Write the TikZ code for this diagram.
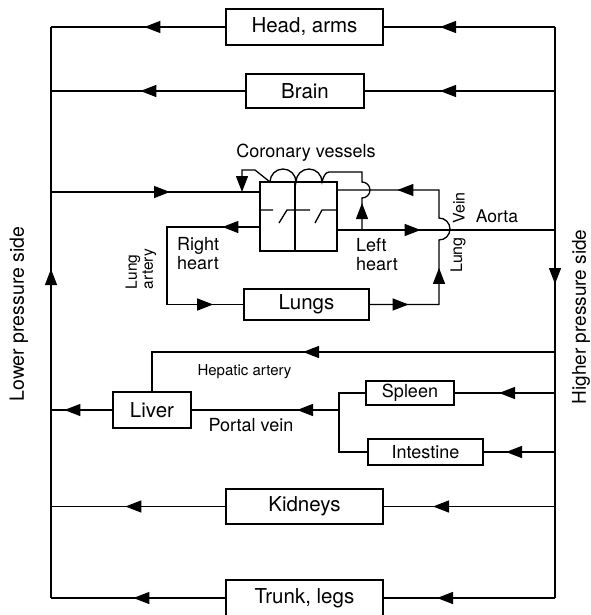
\documentclass[tikz,border=0pt]{standalone}
\usepackage{fontspec}
\setmainfont{TeX Gyre Heros}
\usetikzlibrary{arrows.meta, decorations.markings}

\begin{document}
\begin{tikzpicture}[
    x=1pt, y=-1pt,
    >={Triangle[length=16pt, width=12pt]},
    organ/.style={rectangle, draw, line width=1.3pt, inner sep=0pt, minimum width=157pt, minimum height=35pt, font=\fontsize{20.5}{24}\selectfont},
    small organ/.style={organ, minimum height=25pt, font=\fontsize{18}{21}\selectfont},
    pipe/.style={draw, line width=1.3pt},
    arrowat/.style={postaction={decorate, decoration={markings, mark=at position #1 with {\arrow{>}}}}},
    tag/.style={inner sep=0pt, align=left, font=\fontsize{18}{19}\selectfont},
    side/.style={rotate=90, inner sep=0pt, font=\fontsize{19.5}{22}\selectfont}
]
\useasboundingbox (0,0) rectangle (590,615);
\clip (0,0) rectangle (590,615);

% Sides
\coordinate (lt) at (51,27);
\coordinate (lb) at (51,598);
\coordinate (rt) at (555,27);
\coordinate (rb) at (555,598);
\coordinate (portal) at (339,410);

% Organs
\node[organ, minimum height=36pt] (head) at (304.5,27) {Head, arms};
\node[organ, minimum width=118pt, minimum height=34pt] (brain) at (305,91) {Brain};
\node[organ, minimum width=77pt, minimum height=69pt] (heart) at (298.5,216.5) {};
\node[organ, minimum width=125pt, minimum height=31pt] (lungs) at (306.5,304.5) {Lungs};
\node[organ, minimum width=78pt, minimum height=36pt] (liver) at (152,410) {Liver};
\node[small organ, minimum width=88pt, minimum height=24pt] (spleen) at (410,393) {Spleen};
\node[small organ, minimum width=115pt, minimum height=26pt] (intestine) at (425.5,452) {Intestine};
\node[organ] (kidneys) at (304.5,506.5) {Kidneys};
\node[organ, minimum height=36pt] (trunk) at (304.5,598) {Trunk, legs};

% Heart chambers and valves
\draw[pipe] (295,182) -- (295,251);
\draw[pipe] (260,210) -- (273,210) (279,223) -- (287,210) -- (310,210)
    (315,223) -- (322,210) -- (337,210);

% Labels
\node[tag] (coronary) at (306,153) {Coronary vessels};
\node[tag, anchor=west] (rheart) at (177,254) {Right\\heart};
\node[tag, anchor=west] (lheart) at (356,255) {Left\\heart};
\node[tag, rotate=90, font=\fontsize{15.5}{16}\selectfont] (lungart) at (141,269) {Lung\\artery};
\node[tag, rotate=90, font=\fontsize{16}{17}\selectfont] (vein) at (459,208) {Vein};
\node[tag, rotate=90, font=\fontsize{16}{17}\selectfont] (lungvein) at (458,255) {Lung};
\node[tag, font=\fontsize{17.5}{19}\selectfont] (aorta) at (497,216) {Aorta};
\node[tag, font=\fontsize{15}{17}\selectfont] (hepatic) at (244.5,372) {Hepatic artery};
\node[tag] (portalvein) at (251,425) {Portal vein};
\node[side] (lower) at (19,314) {Lower pressure side};
\node[side, font=\fontsize{19}{22}\selectfont] (higher) at (581,317) {Higher pressure side};

% Connections
\draw[pipe, arrowat=329pt] (lb) -- (lt);
\draw[pipe, arrowat=257pt] (rt) -- (rb);
\draw[pipe, arrowat=115pt] (head.east -| rt) -- (head.east);
\draw[pipe, arrowat=81pt] (head.west) -- (head.west -| lt);
\draw[pipe, arrowat=115pt] (brain.east -| rt) -- (brain.east);
\draw[pipe, arrowat=105pt] (brain.west) -- (brain.west -| lt);
\draw[pipe, arrowat=119pt] (lt |- 0,192) -- (heart.west |- 0,192);
\draw[pipe, arrowat=37pt, arrowat=216pt] (heart.west |- 0,227) -- (167,227) -- (167,304.5) -- (lungs.west);
\draw[pipe, arrowat=39pt, arrowat=106pt, arrowat=238pt] (lungs.east) -- (439,304.5) -- (439,240)
    arc[start angle=90, end angle=-90, radius=11] -- (439,190) -- (heart.east |- 0,190);
\draw[pipe, arrowat=83pt] (heart.east |- 0,230) -- (rt |- 0,230);
\draw[pipe, arrowat=27pt, ->] (362,230) -- (362,198) arc[start angle=90, end angle=-90, radius=8]
    -- (362,172) -- (329,172) .. controls (325,172) and (323,178) .. (322,182)
    arc[start angle=0, end angle=-180, radius=13] arc[start angle=0, end angle=-180, radius=13]
    -- (255,170) -- (242,170) -- (242,192);
\draw[pipe, arrowat=252pt] (rt |- 0,352) -- (liver.north |- 0,352) -- (liver.north);
\draw[pipe, arrowat=48pt] (liver.west) -- (liver.west -| lt);
\draw[pipe, arrowat=42pt] (portal) -- (liver.east);
\draw[pipe] (spleen.west) -- (spleen.west -| portal) -- (intestine.west -| portal) -- (intestine.west);
\draw[pipe, arrowat=56pt] (spleen.east -| rt) -- (spleen.east);
\draw[pipe, arrowat=49pt] (intestine.east -| rt) -- (intestine.east);
\draw[pipe, arrowat=122pt] (kidneys.east -| rt) -- (kidneys.east);
\draw[pipe, arrowat=100pt] (kidneys.west) -- (kidneys.west -| lt);
\draw[pipe, arrowat=118pt] (trunk.east -| rt) -- (trunk.east);
\draw[pipe, arrowat=92pt] (trunk.west) -- (trunk.west -| lt);

\end{tikzpicture}
\end{document}
